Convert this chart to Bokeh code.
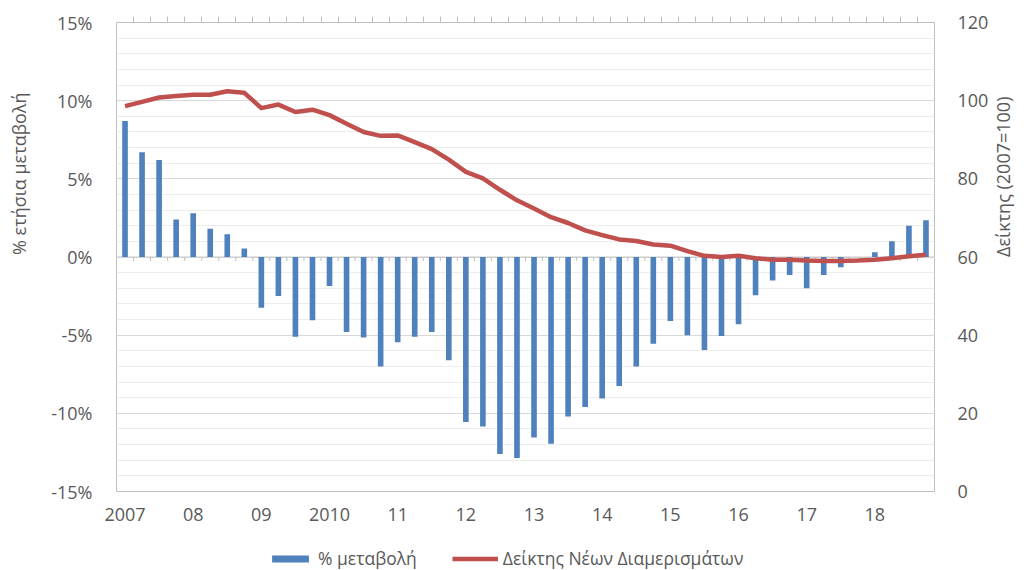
import math
from bokeh.plotting import figure
from bokeh.layouts import column
from bokeh.models import (Range1d, LinearAxis, FixedTicker, Title, Legend, LegendItem,
                          Grid, Span)
from bokeh.embed import file_html
from bokeh.resources import INLINE

# ---------------- data ----------------
years = list(range(2007, 2019))
quarters = [f"{y}Q{q}" for y in years for q in range(1, 5)]
pct_change = [8.7, 6.7, 6.2, 2.4, 2.8, 1.8, 1.45, 0.55,
              -3.25, -2.5, -5.1, -4.05, -1.85, -4.8, -5.15, -7.0,
              -5.45, -5.1, -4.8, -6.6, -10.55, -10.85, -12.6, -12.85,
              -11.55, -11.95, -10.2, -9.6, -9.05, -8.25, -7.0, -5.55,
              -4.1, -5.0, -5.95, -5.05, -4.3, -2.45, -1.5, -1.15,
              -2.0, -1.15, -0.65, 0.0, 0.3, 1.0, 2.0, 2.35]
price_index = [98.6, 99.7, 100.8, 101.2, 101.5, 101.5, 102.4, 102.0,
               98.1, 99.0, 97.1, 97.7, 96.3, 94.1, 92.0, 91.0,
               91.1, 89.4, 87.6, 84.9, 81.8, 80.1, 77.2, 74.5,
               72.4, 70.2, 68.7, 66.8, 65.6, 64.5, 64.1, 63.2,
               62.9, 61.5, 60.3, 60.0, 60.3, 59.7, 59.3, 59.3,
               59.1, 59.0, 59.0, 59.1, 59.3, 59.7, 60.2, 60.6]
year_labels = ["2007", "08", "09", "2010", "11", "12", "13", "14", "15", "16", "17", "18"]
pct_ticks = [-15, -10, -5, 0, 5, 10, 15]
idx_ticks = [0, 20, 40, 60, 80, 100, 120]

FONT = "Open Sans"
TXT = "#595959"
BLUE = "#4F81BD"
RED = "#C0504D"

xs = list(range(len(quarters)))
bounds = [i + 0.5 for i in xs[:-1]]

p = figure(width=1030, height=528, output_backend="svg", toolbar_location=None,
           x_range=Range1d(-0.5, len(quarters) - 0.5), y_range=Range1d(-15, 15),
           x_axis_location=None, y_axis_location=None,
           min_border_left=116, min_border_right=95, min_border_top=22, min_border_bottom=37)
# drop the default grids
p.center = [r for r in p.center if not isinstance(r, Grid)]
p.extra_y_ranges = {"idx": Range1d(0, 120)}
p.outline_line_color = "#BFBFBF"
p.outline_line_width = 1

left = LinearAxis(ticker=FixedTicker(ticks=pct_ticks, minor_ticks=list(range(-15, 16))),
                  major_label_overrides={t: f"{t}%" for t in pct_ticks})
right = LinearAxis(y_range_name="idx", ticker=FixedTicker(ticks=idx_ticks),
                   axis_label="Δείκτης (2007=100)")
bottom = LinearAxis(ticker=FixedTicker(ticks=[xs[4 * k] for k in range(len(year_labels))]),
                    major_label_overrides={xs[4 * k]: lab for k, lab in enumerate(year_labels)})
for ax in (left, right, bottom):
    ax.axis_line_color = None
    ax.major_tick_line_color = None
    ax.minor_tick_line_color = None
    ax.major_tick_in = 0
    ax.major_tick_out = 0
    ax.minor_tick_in = 0
    ax.minor_tick_out = 0
    ax.major_label_text_font = FONT
    ax.major_label_text_font_size = "18px"
    ax.major_label_text_color = TXT
left.major_label_standoff = 24
# invisible spacer label to push the left title outwards
left.axis_label = " "
left.axis_label_text_font_size = "2px"
left.axis_label_standoff = 13
right.major_label_standoff = 23
right.axis_label_standoff = 12
right.axis_label_orientation = math.pi / 2
right.axis_label_text_font = FONT
right.axis_label_text_font_size = "18px"
right.axis_label_text_font_style = "normal"
right.axis_label_text_color = TXT
bottom.major_label_standoff = 16

top = LinearAxis(ticker=FixedTicker(ticks=bounds), axis_line_color=None,
                 major_tick_line_color="#BFBFBF", major_tick_in=0, major_tick_out=6,
                 minor_tick_line_color=None, minor_tick_in=0, minor_tick_out=0,
                 major_label_text_color=None,
                 major_label_text_font_size="1px", major_label_standoff=0)

p.add_layout(left, "left")
p.add_layout(right, "right")
p.add_layout(bottom, "below")
p.add_layout(top, "above")

grid = Grid(dimension=1, ticker=left.ticker, grid_line_color="#D9D9D9",
            minor_grid_line_color="#EDEDED", level="underlay")
p.add_layout(grid)

ltitle = Title(text="% ετήσια μεταβολή", align="right", offset=70, standoff=0,
               text_font=FONT, text_font_size="18px", text_font_style="normal",
               text_color=TXT)
p.add_layout(ltitle, "left")

bars = p.vbar(x=xs, top=pct_change, bottom=0, width=0.33, fill_color=BLUE, line_color=None)
p.add_layout(Span(location=0, dimension="width", line_color="#C8C8C8", line_width=1, level="underlay"))
p.segment(x0=bounds, y0=[0] * len(bounds), x1=bounds, y1=[-0.25] * len(bounds),
          line_color="#BFBFBF", line_width=1)
line = p.line(x=xs, y=price_index, y_range_name="idx", line_color=RED, line_width=4.5,
              line_join="round")

# legend strip below the chart (its frame is aligned with the chart frame)
nan = float("nan")
pl = figure(width=1030, height=42, output_backend="svg", toolbar_location=None,
            x_axis_location=None, y_axis_location=None, min_border=0,
            x_range=Range1d(0, 1), y_range=Range1d(0, 1))
pl.center = [r for r in pl.center if not isinstance(r, Grid)]
pl.outline_line_color = None
lb = pl.vbar(x=[nan], top=[nan], width=0.5, fill_color=BLUE, line_color=None)
ll = pl.line(x=[nan], y=[nan], line_color=RED, line_width=4.5)
legend = Legend(items=[LegendItem(label="% μεταβολή", renderers=[lb]),
                       LegendItem(label="Δείκτης Νέων Διαμερισμάτων", renderers=[ll])],
                orientation="horizontal", location=(151, 0),
                glyph_width=46, glyph_height=9, label_standoff=5, spacing=35,
                padding=0, margin=0, border_line_color=None, background_fill_color=None,
                label_text_font=FONT, label_text_font_size="17.5px", label_text_color=TXT)
pl.add_layout(legend)

open("out.html", "w").write(file_html(column(p, pl, spacing=0), INLINE))
